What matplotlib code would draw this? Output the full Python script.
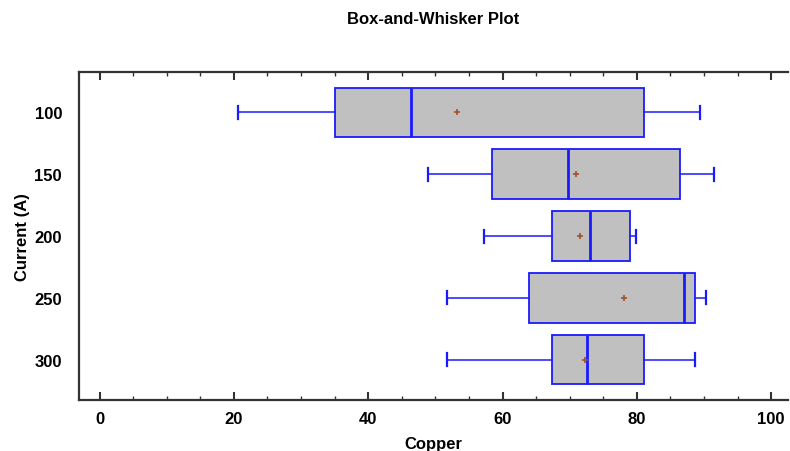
import numpy as np
import matplotlib.pyplot as plt
from matplotlib.ticker import MultipleLocator

plt.rcParams['font.family'] = ['Liberation Sans', 'DejaVu Sans']

# data
labels = ['100', '150', '200', '250', '300']
whislo = [20.6, 48.9, 57.2, 51.8, 51.7]
q1 = [35.1, 58.5, 67.3, 64.0, 67.3]
med = [46.3, 69.8, 73.0, 87.0, 72.6]
mean = [53.2, 70.9, 71.6, 78.1, 72.3]
q3 = [81.1, 86.4, 79.0, 88.7, 81.0]
whishi = [89.4, 91.5, 79.9, 90.3, 88.7]

stats = []
for i in range(len(labels)):
    stats.append({'label': labels[i], 'whislo': whislo[i], 'q1': q1[i], 'med': med[i],
                  'mean': mean[i], 'q3': q3[i], 'whishi': whishi[i], 'fliers': []})

fig = plt.figure(figsize=(7.9, 4.52), dpi=100)
ax = fig.add_axes([0.0996, 0.1135, 0.8979, 0.7243])

blue = '#1a1aff'
ax.bxp(stats, positions=np.arange(len(labels)), vert=False, widths=0.8,
       patch_artist=True, showmeans=True, capwidths=0.21,
       boxprops=dict(facecolor='#c0c0c0', edgecolor=blue, linewidth=1.3),
       medianprops=dict(color=blue, linewidth=2),
       whiskerprops=dict(color=blue, linewidth=1.1),
       capprops=dict(color=blue, linewidth=1.6),
       meanprops=dict(marker='+', markeredgecolor='#a0522d', markersize=5, markeredgewidth=1.2))

ax.set_xlim(-3.1, 102.5)
ax.set_ylim(4.646, -0.646)
ax.set_yticks(np.arange(len(labels)))
ax.set_yticklabels(labels)

ax.xaxis.set_major_locator(MultipleLocator(20))
ax.xaxis.set_minor_locator(MultipleLocator(5))
ax.tick_params(axis='x', which='major', direction='in', length=6, width=1.5,
               top=True, bottom=True, color='#333333', labelsize=12, pad=8)
ax.tick_params(axis='x', which='minor', direction='in', length=3, width=1,
               top=True, bottom=True, color='#333333')
ax.tick_params(axis='y', length=0, labelsize=12, pad=12)
for lab in ax.get_xticklabels() + ax.get_yticklabels():
    lab.set_fontweight('bold')

ax.spines['right'].set_visible(False)
for s in ['left', 'top', 'bottom']:
    ax.spines[s].set_linewidth(1.6)
    ax.spines[s].set_color('#333333')

ax.set_xlabel('Copper', fontsize=12, fontweight='bold', labelpad=7)
ax.set_ylabel('Current (A)', fontsize=12, fontweight='bold', labelpad=3)
ax.set_title('Box-and-Whisker Plot', fontsize=12, fontweight='bold', pad=35.5)

fig.savefig('out.png', dpi=100)
